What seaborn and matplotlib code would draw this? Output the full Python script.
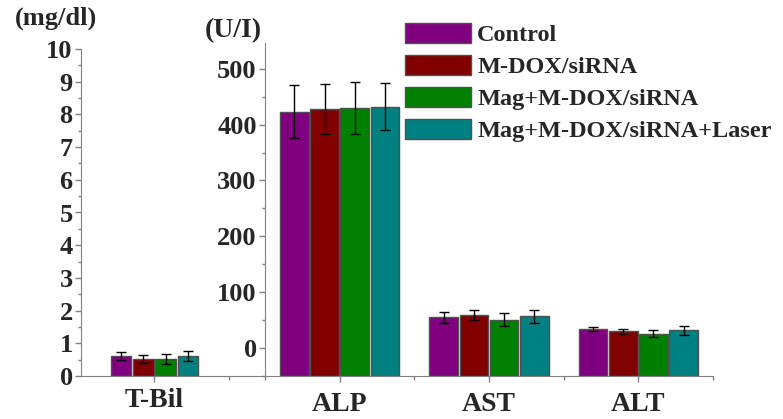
import matplotlib
matplotlib.use("Agg")
import matplotlib.pyplot as plt
from matplotlib.ticker import MultipleLocator
import numpy as np
import pandas as pd
import seaborn as sns

# data
groups = ["Control", "M-DOX/siRNA", "Mag+M-DOX/siRNA", "Mag+M-DOX/siRNA+Laser"]
colors = ["#800080", "#800000", "#008000", "#008080"]

tbil_mean = [0.61, 0.52, 0.52, 0.60]
tbil_err = [0.11, 0.13, 0.15, 0.15]

enzymes = ["ALP", "AST", "ALT"]
enz_mean = {
    "Control": [423, 55, 34.5],
    "M-DOX/siRNA": [428, 59.5, 30],
    "Mag+M-DOX/siRNA": [430, 51, 26],
    "Mag+M-DOX/siRNA+Laser": [432, 57, 31.5],
}
enz_err = {
    "Control": [47, 10, 3.5],
    "M-DOX/siRNA": [44, 8.5, 5],
    "Mag+M-DOX/siRNA": [46, 11, 6.5],
    "Mag+M-DOX/siRNA+Laser": [42, 11.5, 8],
}

sns.set_style("ticks")
plt.rcParams["font.family"] = ["Liberation Serif", "DejaVu Serif"]
plt.rcParams["font.weight"] = "bold"
plt.rcParams["axes.edgecolor"] = "#808080"

W, H = 783, 419
fig = plt.figure(figsize=(W / 100, H / 100), dpi=100)

def fx(px):
    return px / W

def fy(px):
    return 1 - px / H

ax1 = fig.add_axes([fx(81), fy(376), fx(265 - 81), (376 - 49) / H])
ax2 = fig.add_axes([fx(265), fy(376), fx(713 - 265), (376 - 43) / H])

df1 = pd.DataFrame({"marker": ["T-Bil"] * 4, "group": groups, "value": tbil_mean})
rows = []
for g in groups:
    for e, v in zip(enzymes, enz_mean[g]):
        rows.append({"marker": e, "group": g, "value": v})
df2 = pd.DataFrame(rows)

sns.barplot(data=df1, x="marker", y="value", hue="group", hue_order=groups,
            palette=colors, saturation=1, width=0.6, gap=0.08,
            edgecolor="#505050", linewidth=1, errorbar=None, legend=False, ax=ax1)
sns.barplot(data=df2, x="marker", y="value", hue="group", hue_order=groups,
            palette=colors, saturation=1, width=0.81, gap=0.05,
            edgecolor="#505050", linewidth=1, errorbar=None, ax=ax2)

# error bars
for cont, err in zip(ax1.containers, tbil_err):
    for bar in cont:
        ax1.errorbar(bar.get_x() + bar.get_width() / 2, bar.get_height(), yerr=err,
                     fmt="none", ecolor="black", elinewidth=1, capsize=3.5, capthick=1)

ybase = -50
for cont, g in zip(ax2.containers, groups):
    for bar, err in zip(cont, enz_err[g]):
        h = bar.get_height()
        ax2.errorbar(bar.get_x() + bar.get_width() / 2, h, yerr=err,
                     fmt="none", ecolor="black", elinewidth=1, capsize=3.5, capthick=1)
        # Origin style: bars start at the bottom of the axis
        bar.set_y(ybase)
        bar.set_height(h - ybase)

# axes styling
ax1.set_xlim(-0.493, 0.742)
ax1.set_ylim(0, 10)
ax1.yaxis.set_major_locator(MultipleLocator(1))
ax1.yaxis.set_minor_locator(MultipleLocator(0.5))
ax1.set_xticks([0])
ax1.set_xticks([0.5], minor=True)

ax2.set_xlim(-0.5, 2.5)
ax2.set_ylim(ybase, ybase + (376 - 43) / 0.5587)
ax2.set_yticks([0, 100, 200, 300, 400, 500])
ax2.yaxis.set_minor_locator(MultipleLocator(50))
ax2.set_xticks([-0.5, 0.5, 1.5, 2.5], minor=True)

for ax, xpad in ((ax1, 4.5), (ax2, 7.5)):
    sns.despine(ax=ax)
    ax.patch.set_alpha(0)
    ax.set_xlabel("")
    ax.set_ylabel("")
    ax.tick_params(axis="y", which="major", labelsize=19, length=4, width=1,
                   color="#808080", pad=2)
    ax.tick_params(axis="y", which="minor", length=2.5, width=1, color="#808080")
    ax.tick_params(axis="x", which="major", labelsize=20, length=4, width=1,
                   color="#808080", pad=xpad)
    ax.tick_params(axis="x", which="minor", length=3, width=1, color="#808080")
    for lab in ax.get_xticklabels() + ax.get_yticklabels():
        lab.set_fontweight("bold")

fig.text(fx(56), fy(18), "(mg/dl)", ha="center", va="center", fontsize=19,
         fontweight="bold")
fig.text(fx(233), fy(31), "(U/I)", ha="center", va="center", fontsize=20,
         fontweight="bold")

handles, labels = ax2.get_legend_handles_labels()
ax2.legend(handles, labels, loc="upper left",
           bbox_to_anchor=(fx(405), fy(23)), bbox_transform=fig.transFigure,
           frameon=False, borderpad=0, borderaxespad=0,
           prop={"size": 17.5, "weight": "bold"},
           handlelength=2.72, handleheight=0.9, handletextpad=0.25,
           labelspacing=0.35)

plt.savefig("out.png", dpi=100)
plt.close()
